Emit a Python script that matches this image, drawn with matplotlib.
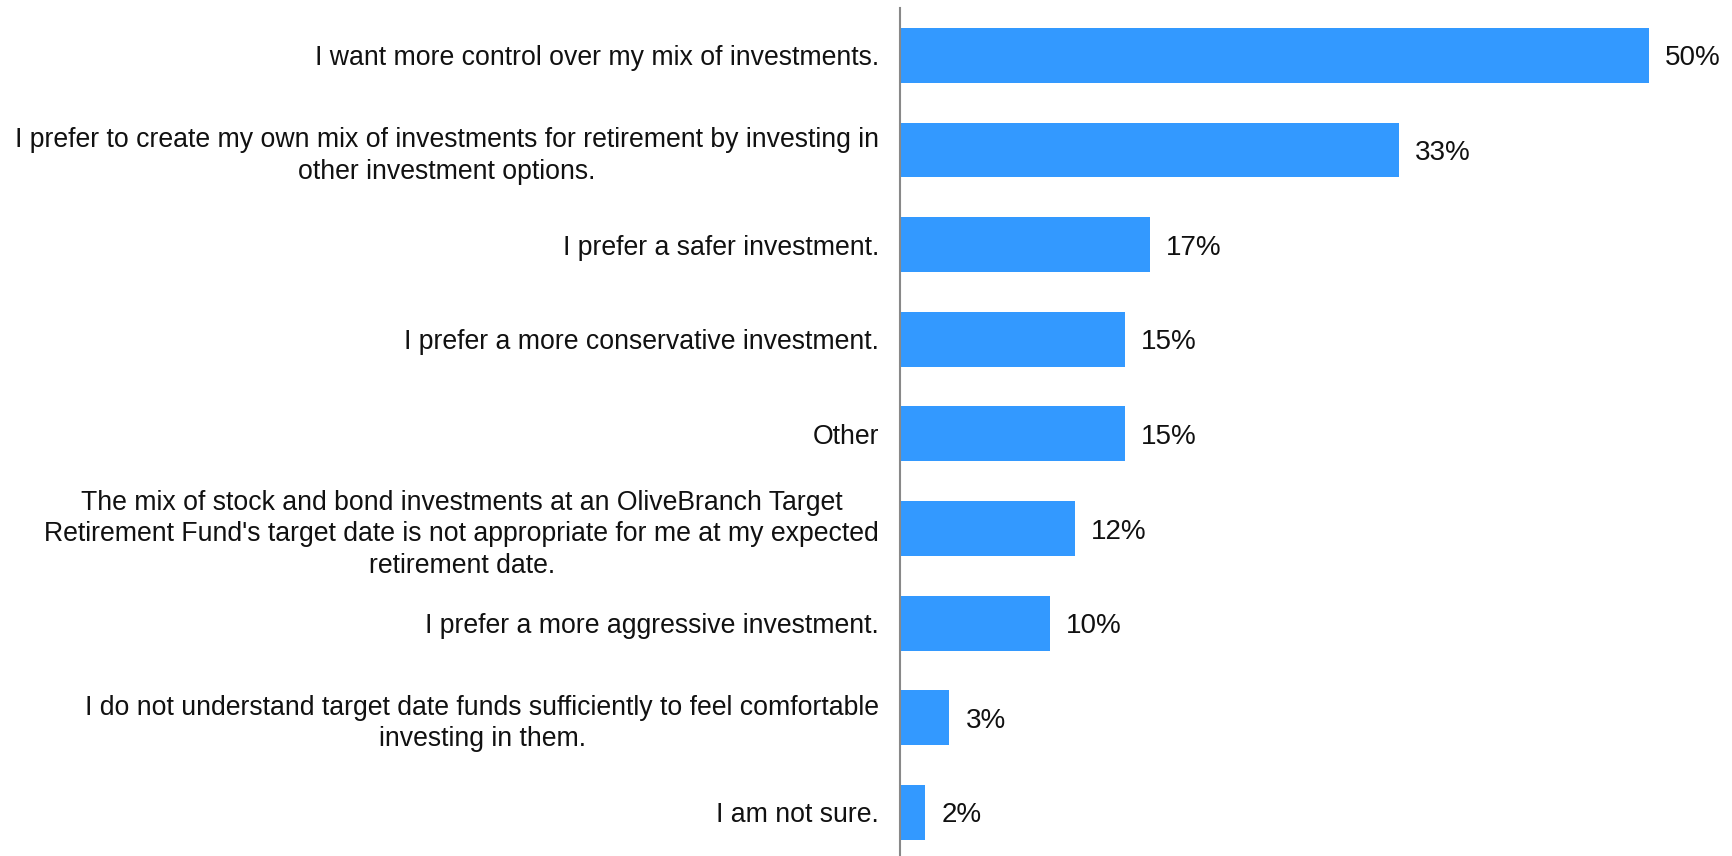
import matplotlib
matplotlib.use("Agg")
import matplotlib.pyplot as plt

categories = [
    "I want more control over my mix of investments.",
    "I prefer to create my own mix of investments for retirement by investing in\nother investment options.",
    "I prefer a safer investment.",
    "I prefer a more conservative investment.",
    "Other",
    "The mix of stock and bond investments at an OliveBranch Target\nRetirement Fund's target date is not appropriate for me at my expected\nretirement date.",
    "I prefer a more aggressive investment.",
    "I do not understand target date funds sufficiently to feel comfortable\ninvesting in them.",
    "I am not sure.",
]
values = [50.0, 33.3, 16.7, 15.0, 15.0, 11.7, 10.0, 3.3, 1.7]
value_labels = ["50%", "33%", "17%", "15%", "15%", "12%", "10%", "3%", "2%"]

plt.rcParams['font.family'] = ['Liberation Sans', 'DejaVu Sans']

fig = plt.figure(figsize=(17.33, 8.56), dpi=100)
ax = fig.add_axes([900/1733, 0.0, 1 - 900/1733, 1 - 8/856])

y = list(range(len(categories)))
bars = ax.barh(y, values, height=0.58, color="#3399FF")
ax.set_ylim(8.46, -0.5)
ax.set_xlim(0, 55.6)

for yi, v, lab in zip(y, values, value_labels):
    ax.annotate(lab, xy=(v, yi), xytext=(16, -3), textcoords="offset pixels",
                va="center", ha="left", fontsize=20, color="#111111")

ax.set_yticks(y)
ax.set_yticklabels(categories, fontsize=19.2, multialignment="center",
                   color="#111111", linespacing=1.28)
ax.tick_params(axis="y", length=0, pad=15)
ax.set_xticks([])
for s in ["top", "right", "bottom"]:
    ax.spines[s].set_visible(False)
ax.spines["left"].set_color("#888888")
ax.spines["left"].set_linewidth(1.5)

fig.savefig("out.png", dpi=100)
